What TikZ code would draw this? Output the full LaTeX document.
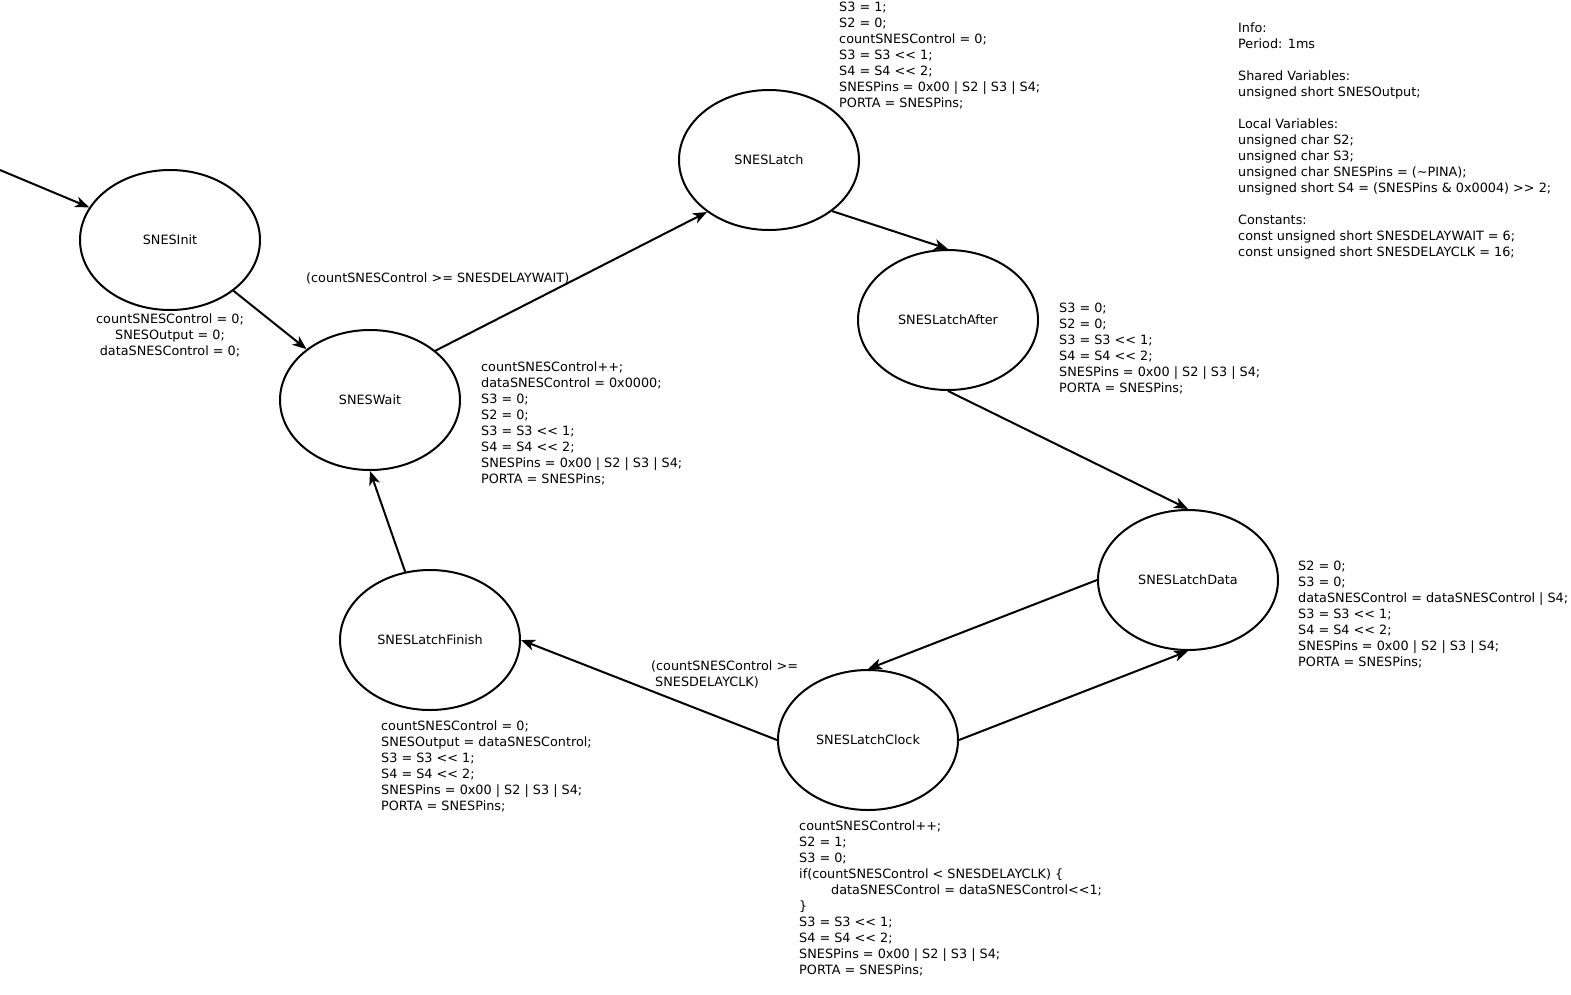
\documentclass[tikz,border=0pt]{standalone}
\usepackage{fontspec}
\setmainfont{DejaVu Sans}
\usepackage{tikz}
\usetikzlibrary{positioning, arrows.meta, shapes.geometric}
\newcommand{\shl}{<\kern0pt<}
\newcommand{\shr}{>\kern0pt>}

\begin{document}
\begin{tikzpicture}[x=1pt, y=-1pt,
    every node/.style={font=\fontsize{12.8}{16}\selectfont},
    state/.style={draw, ellipse, line width=2pt, minimum width=180pt, minimum height=140pt, inner sep=0pt},
    code/.style={align=left, anchor=base west, inner sep=0pt},
    >={Stealth[length=14pt, width=11pt, inset=4pt]}]
    \useasboundingbox (0,0) rectangle (1571,994);

    % Define nodes
    \node[state] (init) at (170,240) {SNESInit};
    \node[state] (wait) at (370,400) {SNESWait};
    \node[state] (latch) at (769,160) {SNESLatch};
    \node[state] (after) at (948,320) {SNESLatchAfter};
    \node[state] (data) at (1188,580) {SNESLatchData};
    \node[state] (clock) at (868,740) {SNESLatchClock};
    \node[state] (finish) at (430,640) {SNESLatchFinish};
    \coordinate (start) at (0,170);

    % Actions and guards (placed by the baseline of their last line)
    \node[align=center, anchor=base, inner sep=0pt] (initact) at (170,355)
        {countSNESControl = 0;\\ SNESOutput = 0;\\ dataSNESControl = 0;};
    \node[code] (waitguard) at (306,282) {(countSNESControl >= SNESDELAYWAIT)};
    \node[code] (waitact) at (481,483)
        {countSNESControl++;\\ dataSNESControl = 0x0000;\\ S3 = 0;\\ S2 = 0;\\
         S3 = S3 \shl{} 1;\\ S4 = S4 \shl{} 2;\\ SNESPins = 0x00 | S2 | S3 | S4;\\ PORTA = SNESPins;};
    \node[code] (latchact) at (839,107)
        {S3 = 1;\\ S2 = 0;\\ countSNESControl = 0;\\ S3 = S3 \shl{} 1;\\ S4 = S4 \shl{} 2;\\
         SNESPins = 0x00 | S2 | S3 | S4;\\ PORTA = SNESPins;};
    \node[code] (afteract) at (1059,392)
        {S3 = 0;\\ S2 = 0;\\ S3 = S3 \shl{} 1;\\ S4 = S4 \shl{} 2;\\
         SNESPins = 0x00 | S2 | S3 | S4;\\ PORTA = SNESPins;};
    \node[code] (dataact) at (1298,666)
        {S2 = 0;\\ S3 = 0;\\ dataSNESControl = dataSNESControl | S4;\\ S3 = S3 \shl{} 1;\\
         S4 = S4 \shl{} 2;\\ SNESPins = 0x00 | S2 | S3 | S4;\\ PORTA = SNESPins;};
    \node[code] (clockguard) at (651,686)
        {(countSNESControl >=\\ \hspace*{4pt}SNESDELAYCLK)};
    \node[code] (finishact) at (381,810)
        {countSNESControl = 0;\\ SNESOutput = dataSNESControl;\\ S3 = S3 \shl{} 1;\\
         S4 = S4 \shl{} 2;\\ SNESPins = 0x00 | S2 | S3 | S4;\\ PORTA = SNESPins;};
    \node[code] (clockact) at (799,974)
        {countSNESControl++;\\ S2 = 1;\\ S3 = 0;\\ if(countSNESControl < SNESDELAYCLK) \{\\
         \hspace*{32pt}dataSNESControl = dataSNESControl\shl1;\\ \}\\ S3 = S3 \shl{} 1;\\
         S4 = S4 \shl{} 2;\\ SNESPins = 0x00 | S2 | S3 | S4;\\ PORTA = SNESPins;};
    \node[code] (info) at (1238,256)
        {Info:\\ Period: 1ms\\[16pt] Shared Variables:\\ unsigned short SNESOutput;\\[16pt]
         Local Variables:\\ unsigned char S2;\\ unsigned char S3;\\
         unsigned char SNESPins = (\textasciitilde PINA);\\
         unsigned short S4 = (SNESPins \& 0x0004) \shr{} 2;\\[16pt]
         Constants:\\ const unsigned short SNESDELAYWAIT = 6;\\ const unsigned short SNESDELAYCLK = 16;};

    % Draw arrows
    \begin{scope}[line width=2pt]
    \draw[->] (start) -- (init.158);
    \draw[->] (init) -- (wait);
    \draw[->] (wait.37) -- (latch.-140);
    \draw[->] (latch.-39) -- (after.north);
    \draw[->] (after.south) -- (data.north);
    \draw[->] (data.west) -- (clock.north);
    \draw[->] (clock.east) -- (data.south);
    \draw[->] (clock.west) -- (finish.east);
    \draw[->] (finish.110) -- (wait.south);
    \end{scope}
\end{tikzpicture}
\end{document}
